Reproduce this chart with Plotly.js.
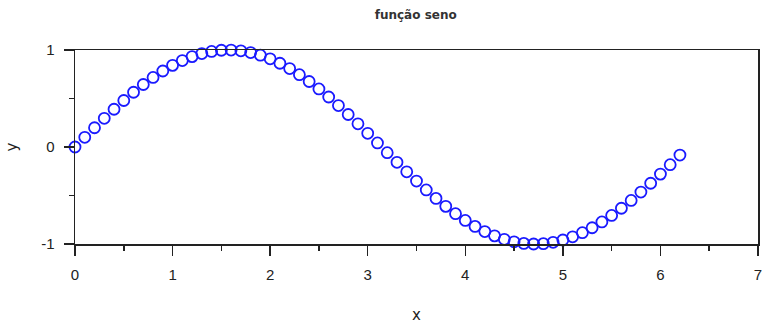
<!DOCTYPE html>
<html>
<head>
<meta charset="utf-8">
<script src="https://cdn.plot.ly/plotly-3.0.1.min.js"></script>
<style>html,body{margin:0;padding:0;background:#fff;}#chart{width:767px;height:324px;}</style>
</head>
<body>
<div id="chart"></div>
<script>
const xValues = [0,0.1,0.2,0.3,0.4,0.5,0.6,0.7,0.8,0.9,1.0,1.1,1.2,1.3,1.4,1.5,1.6,1.7,1.8,1.9,2.0,2.1,2.2,2.3,2.4,2.5,2.6,2.7,2.8,2.9,3.0,3.1,3.2,3.3,3.4,3.5,3.6,3.7,3.8,3.9,4.0,4.1,4.2,4.3,4.4,4.5,4.6,4.7,4.8,4.9,5.0,5.1,5.2,5.3,5.4,5.5,5.6,5.7,5.8,5.9,6.0,6.1,6.2];
const yValues = [0,0.0998,0.1987,0.2955,0.3894,0.4794,0.5646,0.6442,0.7174,0.7833,0.8415,0.8912,0.9320,0.9636,0.9854,0.9975,0.9996,0.9917,0.9738,0.9463,0.9093,0.8632,0.8085,0.7457,0.6755,0.5985,0.5155,0.4274,0.3350,0.2392,0.1411,0.0416,-0.0584,-0.1577,-0.2555,-0.3508,-0.4425,-0.5298,-0.6119,-0.6878,-0.7568,-0.8183,-0.8716,-0.9162,-0.9516,-0.9775,-0.9937,-0.9999,-0.9962,-0.9825,-0.9589,-0.9258,-0.8835,-0.8323,-0.7728,-0.7055,-0.6313,-0.5507,-0.4646,-0.3739,-0.2794,-0.1822,-0.0831];
const xTickVals = [0,1,2,3,4,5,6,7];
const yTickVals = [-1,0,1];
const yTickText = ['-1','0','1'];
const chartTitle = 'função seno';
const xLabel = 'x';
const yLabel = 'y';

const trace = {
  x: xValues, y: yValues, type: 'scatter', mode: 'markers',
  marker: {symbol: 'circle-open', size: 11, color: '#1a1aff', line: {width: 1.8, color: '#1a1aff'}},
  cliponaxis: false, hoverinfo: 'none'
};
const axisCommon = {
  showgrid: false, zeroline: false, showline: true, linecolor: '#222', linewidth: 1.5,
  mirror: true, ticks: 'outside', ticklen: 10, tickwidth: 1.5, tickcolor: '#222',
  tickfont: {family: 'Liberation Sans, Arial, sans-serif', size: 15, color: '#222'},
  ticklabelstandoff: 6,
  minor: {dtick: 0.5, ticks: 'outside', ticklen: 5, tickwidth: 1.5, tickcolor: '#222', showgrid: false}
};
const layout = {
  width: 767, height: 324,
  margin: {l: 75, r: 9, t: 50, b: 80},
  paper_bgcolor: '#fff', plot_bgcolor: '#fff',
  showlegend: false,
  title: {text: '<b>' + chartTitle + '</b>', x: 0.542, xanchor: 'center', y: 0.955, yanchor: 'middle',
          font: {family: 'DejaVu Sans, sans-serif', size: 12, color: '#333'}},
  xaxis: Object.assign({}, axisCommon, {range: [0, 7], tickvals: xTickVals,
          title: {text: xLabel, standoff: 30, font: {family: 'DejaVu Sans, sans-serif', size: 15, color: '#222'}}}),
  yaxis: Object.assign({}, axisCommon, {range: [-1, 1], tickvals: yTickVals, ticktext: yTickText,
          title: {text: yLabel, standoff: 20, font: {family: 'DejaVu Sans, sans-serif', size: 15, color: '#222'}}})
};
Plotly.newPlot('chart', [trace], layout, {displayModeBar: false, staticPlot: true});
</script>
</body>
</html>
